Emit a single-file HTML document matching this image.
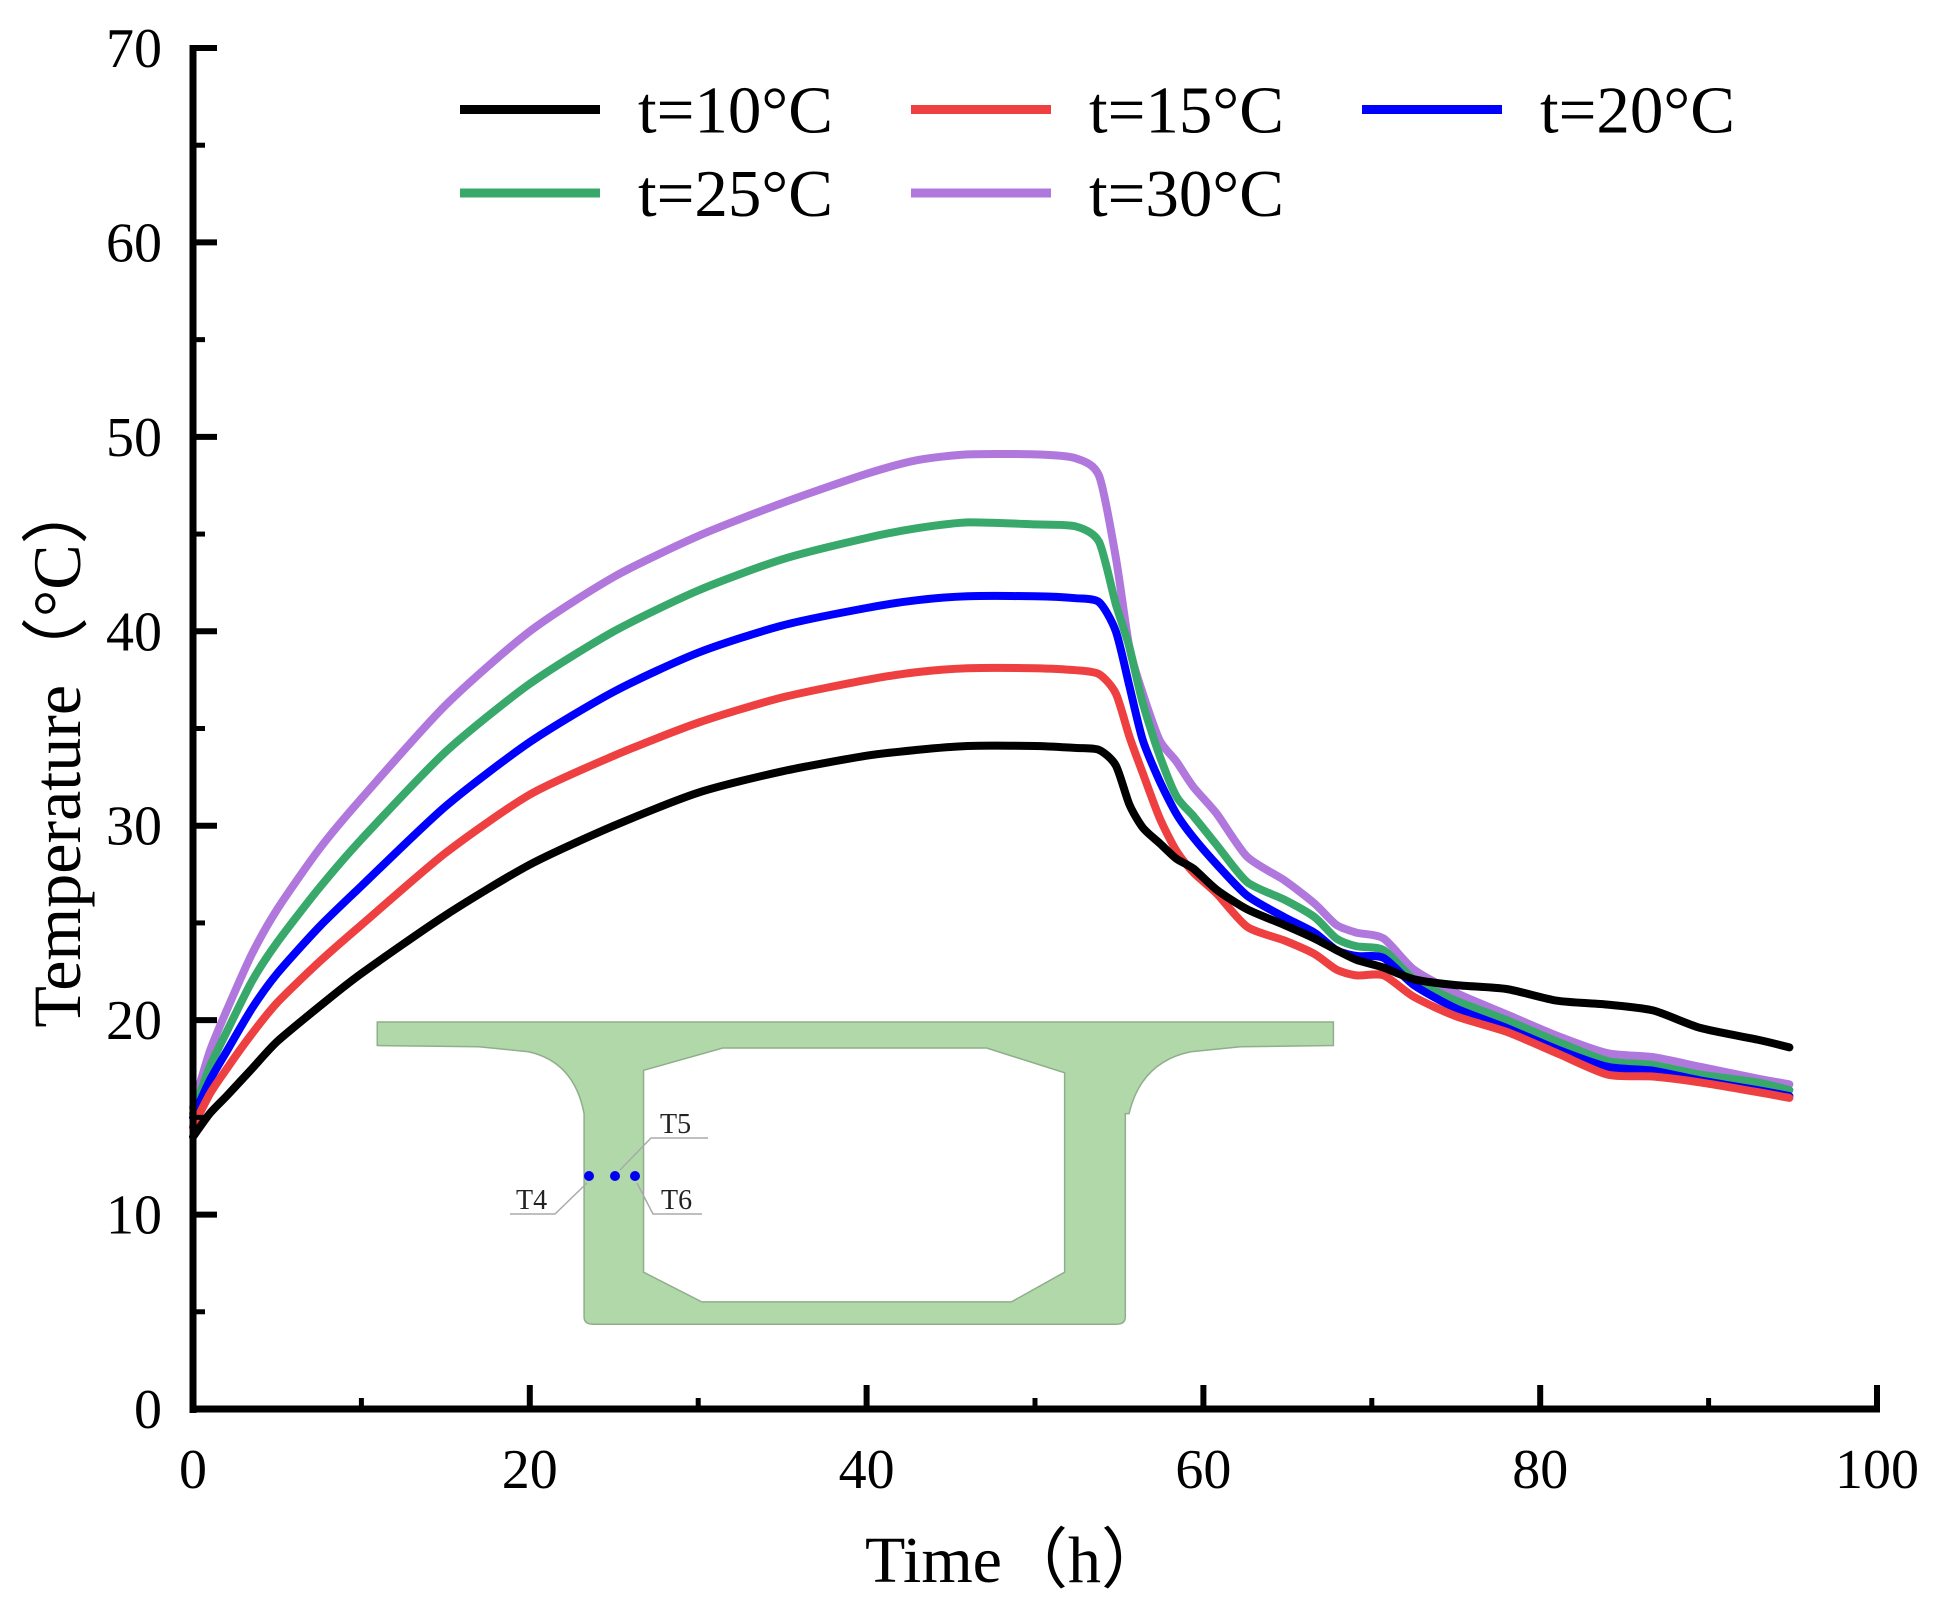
<!DOCTYPE html>
<html><head><meta charset="utf-8"><style>
html,body{margin:0;padding:0;background:#fff;}
svg{display:block;font-family:"Liberation Serif",serif;}
</style></head><body>
<svg id="chart" width="1941" height="1611" viewBox="0 0 1941 1611" xmlns="http://www.w3.org/2000/svg">
<g id="inset">
  <g transform="translate(2,-1) scale(1.2385)">
    <path fill="#b0d8a9" stroke="#8fae8a" stroke-width="1.2" fill-rule="evenodd"
      d="M303,826 L1075,826 L1075,845 L1000,846 L960,850 Q920,858 910,900 L907,900 L907,1064 Q907,1070 900,1070 L477,1070 Q470,1070 470,1064 L470,900 Q462,858 425,850 L385,846 L303,845 Z
         M518,865 L582,847 L795,847 L858,867 L858,1028 L815,1052 L565,1052 L518,1028 Z"/>
  </g>
  <g stroke="#aaa" stroke-width="1.5" fill="none">
    <polyline points="620,1170 651,1138 708,1138"/>
    <polyline points="587,1183 555,1214 510,1214"/>
    <polyline points="637,1183 653,1214 702,1214"/>
  </g>
  <circle cx="589" cy="1176" r="5" fill="#0000ee"/>
  <circle cx="615" cy="1176" r="5" fill="#0000ee"/>
  <circle cx="635" cy="1176" r="5" fill="#0000ee"/>
  <text x="660" y="1133" font-size="28" fill="#222">T5</text>
  <text x="516" y="1209" font-size="28" fill="#222">T4</text>
  <text x="661" y="1209" font-size="28" fill="#222">T6</text>
</g>
<g id="series"></g>
<g id="axes"></g>
<g id="legend"></g>
<text x="1016" y="1582" font-size="66" text-anchor="middle">Time（h）</text>
<text transform="translate(80,752) rotate(-90)" font-size="68" text-anchor="middle">Temperature（°C）</text>
</svg>
<script>
const times = [0,1,2,3.5,5,7.5,10,15,20,25,30,35,40,43,46,50,52.4,53.8,54.8,55.6,56.4,57.4,58.4,59.4,60.8,62.6,64.8,66.6,67.9,69.1,70.7,72.5,75,78,81,84,86.7,89.5,92.9,94.8];
const t10 = [14,15.2,16.1,17.5,18.9,20.7,22.4,25.4,28.0,30.0,31.7,32.8,33.6,33.9,34.1,34.1,34.0,33.9,33.1,31.1,29.9,29.1,28.3,27.8,26.7,25.7,24.9,24.2,23.6,23.1,22.7,22.1,21.8,21.6,21.0,20.8,20.5,19.6,19.0,18.6];
const t15 = [14.5,16.2,17.5,19.3,20.9,23.0,24.9,28.6,31.6,33.6,35.3,36.6,37.5,37.9,38.1,38.1,38.0,37.8,36.8,34.6,32.7,30.4,28.7,27.6,26.5,24.8,24.1,23.4,22.6,22.3,22.3,21.2,20.2,19.4,18.3,17.2,17.1,16.8,16.3,16.0];
const t20 = [15,16.9,18.4,20.6,22.4,24.8,26.9,31.0,34.3,36.9,38.9,40.3,41.2,41.6,41.8,41.8,41.7,41.5,40.0,37.2,34.4,32.3,30.6,29.4,28.0,26.4,25.3,24.5,23.6,23.3,23.2,21.8,20.6,19.6,18.5,17.6,17.4,16.9,16.4,16.1];
const t25 = [15.2,17.6,19.4,22.0,24.0,26.8,29.3,33.8,37.3,40.0,42.1,43.7,44.8,45.3,45.6,45.5,45.4,44.6,41.4,39.2,36.3,33.6,31.5,30.5,29.0,27.1,26.2,25.3,24.2,23.8,23.6,22.1,21.0,20.0,18.9,17.9,17.7,17.2,16.8,16.4];
const t30 = [15.5,18.4,20.5,23.4,25.7,28.8,31.4,36.2,40.0,42.8,44.9,46.6,48.1,48.8,49.1,49.1,48.9,48.0,43.8,39.2,36.8,34.4,33.3,32.0,30.6,28.4,27.2,26.0,24.9,24.5,24.2,22.6,21.4,20.3,19.2,18.3,18.1,17.6,17.0,16.7];
const seriesNames = ["t=10°C","t=15°C","t=20°C","t=25°C","t=30°C"];
const xTicks = [0,20,40,60,80,100];
const yTicks = [0,10,20,30,40,50,60,70];

const NS="http://www.w3.org/2000/svg";
const X0=193,X1=1877,Y0=1409,Y1=48;
function xs(v){return X0+(v-0)/(100-0)*(X1-X0);}
function ys(v){return Y0-(v-0)/(70-0)*(Y0-Y1);}
function mk(tag,attrs,parent){const e=document.createElementNS(NS,tag);for(const k in attrs)e.setAttribute(k,attrs[k]);parent.appendChild(e);return e;}
function smoothPath(P){
  let d="M"+P[0][0].toFixed(1)+","+P[0][1].toFixed(1);
  const k=0.12;
  for(let i=0;i<P.length-1;i++){
    const p0=P[i-1]||P[i],p1=P[i],p2=P[i+1],p3=P[i+2]||P[i+1];
    const c1=[p1[0]+(p2[0]-p0[0])*k,p1[1]+(p2[1]-p0[1])*k];
    const c2=[p2[0]-(p3[0]-p1[0])*k,p2[1]-(p3[1]-p1[1])*k];
    d+=" C"+c1[0].toFixed(1)+","+c1[1].toFixed(1)+" "+c2[0].toFixed(1)+","+c2[1].toFixed(1)+" "+p2[0].toFixed(1)+","+p2[1].toFixed(1);
  }
  return d;
}

const colors=["#000000","#ee4040","#0000ff","#38a96a","#b078dc"];
const data=[t10,t15,t20,t25,t30];
const sg=document.getElementById('series');
[4,3,2,1,0].forEach(i=>{
  const P=times.map((t,j)=>[xs(t),ys(data[i][j])]);
  const p=mk('path',{d:smoothPath(P),fill:"none",stroke:colors[i],"stroke-width":8,"stroke-linejoin":"round","stroke-linecap":"round"},sg);
  
  
});

const ag=document.getElementById('axes');
const yl=mk('line',{x1:X0,y1:Y1-3,x2:X0,y2:Y0+4,stroke:"#000","stroke-width":7},ag);


const xl=mk('line',{x1:X0-3,y1:Y0,x2:X1+3,y2:Y0,stroke:"#000","stroke-width":7},ag);


for(let v=5;v<70;v+=10){
  const m=mk('line',{x1:X0,y1:ys(v),x2:X0+12,y2:ys(v),stroke:"#000","stroke-width":5},ag);
  
  
}
yTicks.forEach(v=>{
  const t=mk('line',{x1:X0,y1:ys(v),x2:X0+24,y2:ys(v),stroke:"#000","stroke-width":6},ag);
  
  
  const l=mk('text',{x:162,y:ys(v)+19,"font-size":56,"text-anchor":"end"},ag);
  l.textContent=v;
  
  
});
for(let v=10;v<100;v+=20){
  const m=mk('line',{x1:xs(v),y1:Y0,x2:xs(v),y2:Y0-11,stroke:"#000","stroke-width":5},ag);
  
  
}
xTicks.forEach(v=>{
  const t=mk('line',{x1:xs(v),y1:Y0,x2:xs(v),y2:Y0-24,stroke:"#000","stroke-width":6},ag);
  
  
  const l=mk('text',{x:xs(v),y:1488,"font-size":56,"text-anchor":"middle"},ag);
  l.textContent=v;
  
  
});

const lg=document.getElementById('legend');
const lx=[460,911,1362], ly=[109.5,193];
seriesNames.forEach((n,i)=>{
  const c=i%3, r=Math.floor(i/3);
  const g=mk('g',{},lg);
  
  
  mk('line',{x1:lx[c],y1:ly[r],x2:lx[c]+140,y2:ly[r],stroke:colors[i],"stroke-width":9},g);
  const t=mk('text',{x:lx[c]+178,y:ly[r]+23,"font-size":67},g);
  t.textContent=n;
});
</script>
</body></html>
